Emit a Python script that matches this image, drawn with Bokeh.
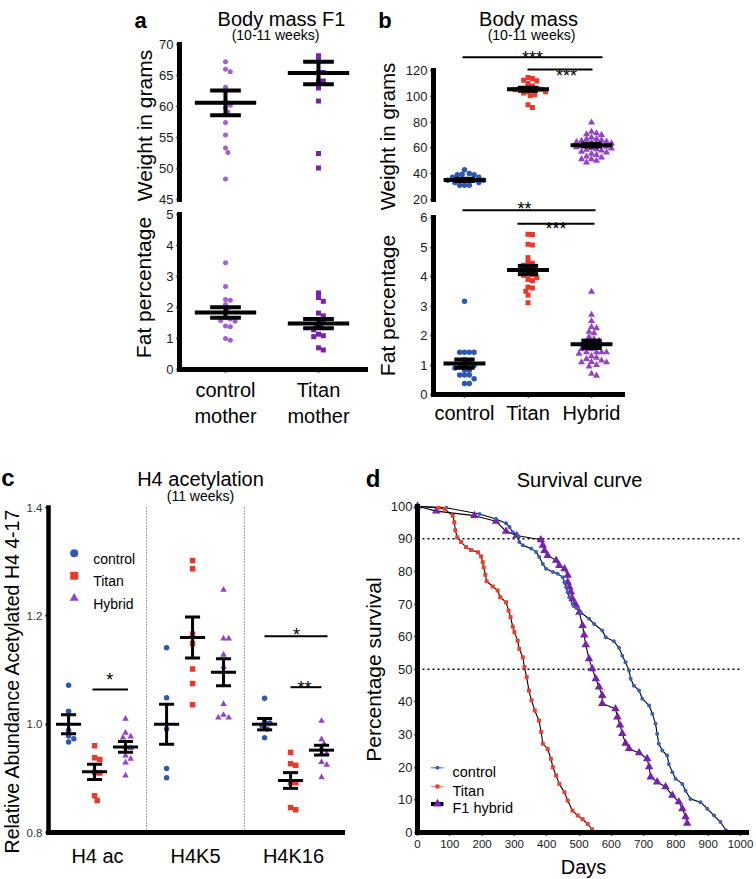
import numpy as np
from bokeh.plotting import figure
from bokeh.layouts import row, column
from bokeh.models import Label, Range1d, FixedTicker, PrintfTickFormatter, LinearAxis
from bokeh.embed import file_html
from bokeh.resources import INLINE

FONT = "Liberation Sans"

# ======================= DATA =======================
# ---- panel a : Body mass F1 (10-11 weeks)
a_groups = ["control\nmother", "Titan\nmother"]
a_weight_control = [67.2, 66.0, 65.6, 63.1, 60.8, 60.2, 59.8, 59.1, 57.4, 55.4, 53.3, 52.6, 48.3]
a_weight_titan = [68.2, 67.4, 65.5, 65.5, 64.1, 64.1, 63.0, 60.9, 52.4, 50.1]
a_weight_mean = [60.6, 65.4]
a_weight_sem = [2.0, 1.8]
a_fat_control = [3.44, 2.68, 2.26, 2.23, 2.10, 1.97, 1.82, 1.67, 1.63, 1.58, 1.56, 1.40, 1.38, 1.00, 0.94]
a_fat_titan = [2.47, 2.32, 2.20, 1.82, 1.73, 1.56, 1.54, 1.42, 1.37, 1.28, 1.14, 1.09, 1.06, 0.70, 0.63]
a_fat_mean = [1.84, 1.48]
a_fat_sem = [0.17, 0.15]
a_weight_ticks = [45, 50, 55, 60, 65, 70]
a_fat_ticks = [0, 1, 2, 3, 4, 5]

# ---- panel b : Body mass (10-11 weeks)
b_groups = ["control", "Titan", "Hybrid"]
b_weight_control = [43.0, 40.2, 39.6, 39.1, 39.1, 37.2, 37.2, 35.0, 35.0, 35.0, 35.0, 35.0, 35.0,
                    33.2, 33.2, 31.1, 31.1, 31.1]
b_weight_titan = [114.6, 113.8, 112.5, 112.0, 110.2, 108.0, 106.8, 106.0, 106.0, 105.5, 105.5, 105.0,
                  104.5, 103.5, 103.5, 102.5, 101.4, 100.4, 93.4, 91.3]
b_weight_hybrid = [79.7, 72.5, 71.4, 70.6, 70.1, 68.0, 67.0, 66.8, 66.0, 65.5, 65.0, 64.5, 64.0, 63.5,
                   63.0, 62.5, 62.0, 61.5, 61.0, 60.5, 60.0, 59.5, 59.0, 58.5, 58.0, 57.0, 56.5, 55.5,
                   54.5, 53.3, 52.5, 51.3, 51.3, 50.0, 48.7]
b_weight_mean = [35.2, 105.5, 62.1]
b_weight_sem = [0.8, 1.2, 1.1]
b_fat_control = [3.16, 1.43, 1.43, 1.43, 1.43, 1.18, 1.14, 0.98, 0.98, 0.98, 0.98, 0.90, 0.82, 0.82,
                 0.66, 0.66, 0.66, 0.53, 0.37, 0.37]
b_fat_titan = [5.43, 5.42, 5.09, 5.07, 4.64, 4.49, 4.45, 4.38, 4.08, 4.07, 4.04, 3.96, 3.90, 3.86,
               3.64, 3.61, 3.50, 3.37, 3.11]
b_fat_hybrid = [3.48, 2.70, 2.49, 2.29, 2.25, 2.13, 2.08, 1.95, 1.88, 1.82, 1.75, 1.75, 1.70, 1.65,
                1.60, 1.54, 1.54, 1.43, 1.43, 1.43, 1.43, 1.38, 1.30, 1.25, 1.20, 1.15, 1.10, 1.09,
                1.09, 1.00, 0.95, 0.70, 0.64]
b_fat_mean = [1.05, 4.22, 1.70]
b_fat_sem = [0.14, 0.14, 0.125]
b_weight_ticks = [20, 40, 60, 80, 100, 120]
b_fat_ticks = [0, 1, 2, 3, 4, 5, 6]

# ---- panel c : H4 acetylation (11 weeks)
c_targets = ["H4 ac", "H4K5", "H4K16"]
c_series = ["control", "Titan", "Hybrid"]
c_control = [[1.072, 1.024, 0.989, 0.978, 0.973, 0.967],
             [1.141, 1.049, 0.991, 0.918, 0.901],
             [1.048, 1.005, 1.002, 0.997, 0.991, 0.975]]
c_titan = [[0.960, 0.938, 0.935, 0.911, 0.910, 0.868, 0.859],
           [1.302, 1.287, 1.166, 1.149, 1.102, 1.075, 1.036],
           [0.948, 0.927, 0.924, 0.892, 0.892, 0.846, 0.842]]
c_hybrid = [[1.010, 0.984, 0.977, 0.975, 0.957, 0.956, 0.942, 0.936, 0.929, 0.905],
            [1.248, 1.158, 1.158, 1.128, 1.106, 1.037, 1.017, 1.012, 1.012],
            [1.006, 0.972, 0.964, 0.956, 0.946, 0.946, 0.930, 0.925, 0.902]]
c_mean_control = [1.000, 1.000, 1.000]
c_sem_control = [0.0175, 0.037, 0.0105]
c_mean_titan = [0.912, 1.160, 0.896]
c_sem_titan = [0.014, 0.038, 0.0145]
c_mean_hybrid = [0.958, 1.096, 0.952]
c_sem_hybrid = [0.010, 0.025, 0.009]
c_ticks = [0.8, 1.0, 1.2, 1.4]

# ---- panel d : Survival curve
d_control_days = [0, 89, 192, 243, 274, 285, 295, 310, 315, 326, 352, 367, 377, 388, 398, 419, 434, 450,
                  455, 460, 465, 470, 480, 492, 505, 531, 547, 572, 583, 608, 624, 634, 644, 655, 660,
                  670, 686, 696, 717, 727, 737, 742, 747, 758, 773, 778, 789, 799, 820, 830, 845, 876,
                  897, 918, 938, 955, 957]
d_control_pct = [100, 99.5, 97.6, 96.1, 94.8, 93.6, 92.0, 91.0, 89.0, 88.0, 87.0, 86.0, 84.4, 82.3,
                 80.8, 79.8, 79.3, 78.2, 76.7, 75.2, 73.6, 72.1, 70.0, 68.8, 67.5, 65.5, 63.9, 61.9,
                 59.8, 58.6, 56.6, 54.2, 52.2, 49.6, 47.1, 45.0, 43.5, 41.0, 38.9, 36.4, 33.3, 30.2,
                 27.2, 25.1, 23.6, 21.0, 18.5, 16.5, 14.9, 12.8, 10.3, 9.3, 7.3, 5.2, 3.2, 0.7, 0]
d_titan_days = [0, 65, 84, 109, 114, 117, 123, 135, 150, 166, 187, 197, 202, 205, 210, 214, 233, 248,
                256, 274, 282, 288, 295, 300, 310, 315, 326, 331, 338, 345, 353, 363, 376, 383, 388,
                403, 413, 419, 429, 439, 455, 465, 480, 496, 511, 527, 540, 544]
d_titan_pct = [100, 99.5, 99.2, 97.1, 95.1, 92.6, 90.5, 89.0, 87.5, 86.6, 85.9, 84.6, 82.8, 81.3, 79.0,
               77.0, 75.4, 74.2, 72.1, 70.6, 68.0, 66.0, 63.1, 61.4, 58.8, 56.3, 53.7, 50.7, 47.6, 43.5,
               40.5, 37.4, 34.3, 30.8, 27.2, 25.6, 22.6, 20.0, 17.5, 14.9, 12.3, 9.8, 6.7, 5.2, 4.1,
               2.6, 1.0, 0]
d_titan_extra_days = [619]
d_titan_extra_pct = [0]
d_hybrid_days = [0, 58, 176, 243, 274, 307, 382, 388, 393, 403, 429, 439, 455, 465, 465, 470, 475, 480,
                 491, 501, 511, 516, 521, 531, 541, 552, 562, 572, 572, 613, 619, 627, 634, 644, 655,
                 686, 711, 717, 722, 742, 768, 789, 809, 820, 830, 835]
d_hybrid_pct = [100, 98.5, 97.1, 95.4, 92.3, 91.0, 89.7, 88.0, 86.4, 84.9, 83.4, 81.8, 80.8, 78.8, 76.7,
                75.2, 73.7, 71.6, 69.6, 67.5, 63.4, 60.5, 57.5, 53.2, 50.2, 47.1, 44.6, 42.0, 39.5,
                37.9, 35.4, 32.9, 30.3, 27.3, 25.7, 24.4, 22.6, 20.1, 17.0, 15.5, 14.0, 11.4, 9.4,
                7.3, 4.8, 2.8]
d_ref_levels = [90, 50]
d_x_ticks = list(range(0, 1001, 100))
d_y_ticks = list(range(0, 101, 10))
d_legend = ["control", "Titan", "F1 hybrid"]

# ======================= STYLE / LAYOUT =======================
A_CTRL, A_TITAN = "#a35fd5", "#7a22b0"
BLUE, RED, PURPLE = "#2e57b5", "#e8392c", "#9443c9"
D_BLUE, D_RED, D_PURPLE = "#3461b9", "#e8412e", "#7b1fae"


def rng(va, pa, vb, pb, e0, e1):
    k = (vb - va) / (pb - pa)
    return (va + (e0 - pa) * k, va + (e1 - pa) * k)


class Panel:
    """box in page pixels (frame = whole canvas); xmap / ymap = two (value, pixel) anchors."""
    def __init__(self, box, xmap, ymap):
        self.box = box
        bx0, by0, bx1, by1 = box
        self.xr = rng(*xmap, bx0, bx1)
        self.yr = rng(*ymap, by1, by0)
        self.pxx = (bx1 - bx0) / (self.xr[1] - self.xr[0])
        self.pxy = (by1 - by0) / (self.yr[1] - self.yr[0])

    def figure(self, **kw):
        bx0, by0, bx1, by1 = self.box
        p = figure(width=bx1 - bx0, height=by1 - by0,
                   x_range=Range1d(*self.xr), y_range=Range1d(*self.yr),
                   min_border=0, min_border_left=0, min_border_right=0,
                   min_border_top=0, min_border_bottom=0,
                   output_backend="svg", toolbar_location=None, **kw)
        p.outline_line_color = None
        p.xgrid.visible = False
        p.ygrid.visible = False
        return p

    def X(self, xp):
        return self.xr[0] + (xp - self.box[0]) / self.pxx

    def Y(self, yp):
        return self.yr[0] + (self.box[3] - yp) / self.pxy


def label(p, P, xp, yp, text, size, bold=False, align="center", baseline="alphabetic",
          angle=0.0, color="black"):
    p.add_layout(Label(x=P.X(xp), y=P.Y(yp), text=text, text_font=FONT,
                       text_font_size=f"{size}px", text_font_style="bold" if bold else "normal",
                       text_align=align, text_baseline=baseline, angle=angle, text_color=color))


def style_axis(ax, lw, tick_out, standoff, size, color="#1a1a1a"):
    ax.axis_line_width = lw
    ax.axis_line_color = "black"
    ax.axis_line_cap = "square"
    ax.major_tick_line_width = 2
    ax.major_tick_line_color = "black"
    ax.major_tick_out = tick_out
    ax.major_tick_in = 0
    ax.minor_tick_line_color = None
    ax.major_label_standoff = standoff
    ax.major_label_text_font = FONT
    ax.major_label_text_font_size = f"{size}px"
    ax.major_label_text_color = color


def yaxis_at(ax, P, spine_x, ticks, lw, tick_out, standoff, size, color="#1a1a1a"):
    ax.fixed_location = P.X(spine_x)
    ax.ticker = FixedTicker(ticks=ticks)
    ax.bounds = (min(ticks), max(ticks))
    style_axis(ax, lw, tick_out, standoff, size, color)
    return ax


def xaxis_at(p, P, spine_y, x0p, x1p, ticks, lw, tick_out, standoff, size, color="black"):
    ax = p.xaxis[0]
    ax.fixed_location = P.Y(spine_y)
    ax.ticker = FixedTicker(ticks=ticks)
    ax.bounds = (P.X(x0p), P.X(x1p))
    style_axis(ax, lw, tick_out, standoff, size, color)
    return ax


def swarm(vals, center, pxx, pxy, d):
    vals = np.asarray(vals, float)
    order = np.argsort(-vals, kind="stable")
    cands = [0.0]
    for j in range(1, 40):
        cands += [j * d / 2, -j * d / 2]
    placed, out = [], np.empty(len(vals))
    for i in order:
        y = vals[i] * pxy
        off = 0.0
        for off in cands:
            if all((off - ox) ** 2 + (y - oy) ** 2 >= (0.95 * d) ** 2 for ox, oy in placed):
                break
        placed.append((off, y))
        out[i] = center + off / pxx
    return out


def mean_sem(p, xs, means, sems, mw, cw, lw, **extra):
    xs = np.asarray(xs, float)
    m = np.asarray(means, float)
    s = np.asarray(sems, float)
    kw = dict(line_color="black", line_width=lw, **extra)
    p.segment(xs - mw, m, xs + mw, m, **kw)
    p.segment(xs - cw, m + s, xs + cw, m + s, **kw)
    p.segment(xs - cw, m - s, xs + cw, m - s, **kw)
    p.segment(xs, m - s, xs, m + s, **kw)


def hbar(p, P, x0p, x1p, yp, lw=2):
    p.segment(x0=P.X(x0p), y0=P.Y(yp), x1=P.X(x1p), y1=P.Y(yp), line_color="black", line_width=lw)


ROT = np.pi / 2

# ======================= PANEL a =======================
P_at = Panel((0, 0, 372, 206), (1, 225, 2, 318), (70, 44, 45, 199))
P_ab = Panel((0, 206, 372, 452), (1, 225, 2, 318), (5, 214, 0, 369))

pa_t = P_at.figure(x_axis_location=None)
yaxis_at(pa_t.yaxis[0], P_at, 179, a_weight_ticks, 5, 3, 3, 13)
for gi, (vals, col, mk) in enumerate([(a_weight_control, A_CTRL, "circle"), (a_weight_titan, A_TITAN, "square")]):
    xs = swarm(vals, gi + 1, P_at.pxx, P_at.pxy, 4.8)
    pa_t.scatter(xs, vals, marker=mk, size=5, fill_color=col, line_color=None)
mean_sem(pa_t, [1, 2], a_weight_mean, a_weight_sem, 0.33, 0.165, 4)
label(pa_t, P_at, 140, 20, "a", 22, bold=True)
label(pa_t, P_at, 281, 18.5, "Body mass F1", 20)
label(pa_t, P_at, 275, 34.5, "(10-11 weeks)", 14)
label(pa_t, P_at, 144, 125, "Weight in grams", 21, baseline="middle", angle=ROT)

pa_b = P_ab.figure()
yaxis_at(pa_b.yaxis[0], P_ab, 179, a_fat_ticks, 5, 3, 3, 13)
ax = xaxis_at(pa_b, P_ab, 369, 179, 365, [1, 2], 5, 3, 6, 20)
ax.major_label_overrides = {i + 1: g for i, g in enumerate(a_groups)}
for gi, (vals, col, mk) in enumerate([(a_fat_control, A_CTRL, "circle"), (a_fat_titan, A_TITAN, "square")]):
    xs = swarm(vals, gi + 1, P_ab.pxx, P_ab.pxy, 4.8)
    pa_b.scatter(xs, vals, marker=mk, size=5, fill_color=col, line_color=None)
mean_sem(pa_b, [1, 2], a_fat_mean, a_fat_sem, 0.33, 0.165, 4)
label(pa_b, P_ab, 143, 287, "Fat percentage", 21, baseline="middle", angle=ROT)

# ======================= PANEL b (one canvas, two y scales) =======================
P_b = Panel((372, 0, 756, 452), (1, 464, 3, 591), (120, 70, 20, 199))
fat_yr = rng(6, 217, 0, 394, 452, 0)
fat_pxy = 452 / (fat_yr[1] - fat_yr[0])
b_styles = [(BLUE, "circle", 5.5, 4.8), (RED, "square", 5, 4.4), (PURPLE, "triangle", 7, 5.0)]

pb = P_b.figure()
pb.extra_y_ranges = {"fat": Range1d(*fat_yr)}
yaxis_at(pb.yaxis[0], P_b, 433, b_weight_ticks, 5, 3, 3, 13)
fat_axis = LinearAxis(y_range_name="fat")
yaxis_at(fat_axis, P_b, 433, b_fat_ticks, 5, 3, 3, 13)
pb.add_layout(fat_axis, "left")
ax = xaxis_at(pb, P_b, 394, 433, 622, [1, 2, 3], 5, 3, 4, 20)
ax.major_label_overrides = {i + 1: g for i, g in enumerate(b_groups)}
for gi, vals in enumerate([b_weight_control, b_weight_titan, b_weight_hybrid]):
    col, mk, sz, dd = b_styles[gi]
    xs = swarm(vals, gi + 1, P_b.pxx, P_b.pxy, dd)
    pb.scatter(xs, vals, marker=mk, size=sz, fill_color=col, line_color=None)
mean_sem(pb, [1, 2, 3], b_weight_mean, b_weight_sem, 0.33, 0.16, 4)
for gi, vals in enumerate([b_fat_control, b_fat_titan, b_fat_hybrid]):
    col, mk, sz, dd = b_styles[gi]
    xs = swarm(vals, gi + 1, P_b.pxx, fat_pxy, dd)
    pb.scatter(xs, vals, marker=mk, size=sz, fill_color=col, line_color=None, y_range_name="fat")
mean_sem(pb, [1, 2, 3], b_fat_mean, b_fat_sem, 0.33, 0.16, 4, y_range_name="fat")
# significance
hbar(pb, P_b, 462, 602, 56.7)
label(pb, P_b, 532, 57.2, "***", 18)
hbar(pb, P_b, 527, 592, 69.0)
label(pb, P_b, 566, 75.0, "***", 18)
hbar(pb, P_b, 462, 595, 209.8)
label(pb, P_b, 524, 208.5, "**", 18)
hbar(pb, P_b, 517, 594, 223.3)
label(pb, P_b, 555.5, 228.8, "***", 18)
label(pb, P_b, 384.5, 20, "b", 22, bold=True)
label(pb, P_b, 528, 18.5, "Body mass", 20)
label(pb, P_b, 531, 34.5, "(10-11 weeks)", 14)
label(pb, P_b, 387, 136, "Weight in grams", 20.5, baseline="middle", angle=ROT)
label(pb, P_b, 387, 305, "Fat percentage", 21, baseline="middle", angle=ROT)

# ======================= PANEL c =======================
P_c = Panel((0, 452, 360, 879), (1, 97, 3, 293), (1.4, 507, 0.8, 832))
pc = P_c.figure()
ax = yaxis_at(pc.yaxis[0], P_c, 48, c_ticks, 4.5, 3, 3, 11.5, color="#333333")
ax.formatter = PrintfTickFormatter(format="%.1f")
ax = xaxis_at(pc, P_c, 832, 48, 342, [1, 2, 3], 5, 0, 12, 20)
ax.major_label_overrides = {i + 1: t for i, t in enumerate(c_targets)}
pc.segment(x0=[1.5, 2.5], y0=min(c_ticks), x1=[1.5, 2.5], y1=max(c_ticks),
           line_color="#555555", line_width=1, line_dash="1 2")
c_offsets = [-0.295, -0.03, 0.286]
c_styles = [(BLUE, "circle", 5.5), (RED, "square", 5.5), (PURPLE, "triangle", 6.5)]
c_all = [c_control, c_titan, c_hybrid]
c_means = [c_mean_control, c_mean_titan, c_mean_hybrid]
c_sems = [c_sem_control, c_sem_titan, c_sem_hybrid]
for si in range(3):
    col, mk, sz = c_styles[si]
    for ti in range(3):
        vals = c_all[si][ti]
        xs = swarm(vals, ti + 1 + c_offsets[si], P_c.pxx, P_c.pxy, 5.2)
        pc.scatter(xs, vals, marker=mk, size=sz, fill_color=col, line_color=None)
for si in range(3):
    mean_sem(pc, [t + 1 + c_offsets[si] for t in range(3)], c_means[si], c_sems[si], 0.128, 0.077, 3)
hbar(pc, P_c, 92, 127.5, 689)
label(pc, P_c, 109.3, 679.6, "*", 18)
hbar(pc, P_c, 264, 327, 635.7)
label(pc, P_c, 296, 634.6, "*", 18)
hbar(pc, P_c, 290, 321, 686.7)
label(pc, P_c, 304, 687.2, "**", 18)
for i, s in enumerate(c_series):
    col, mk, sz = c_styles[i]
    yy = [552.7, 575.2, 597.7][i]
    pc.scatter([P_c.X(73.7)], [P_c.Y(yy)], marker=mk, size=sz + 2.5, fill_color=col, line_color=None)
    label(pc, P_c, 92.7, yy + 5.7, s, 14, align="left")
label(pc, P_c, 7.5, 476.7, "c", 24, bold=True)
label(pc, P_c, 200, 478.3, "H4 acetylation", 20)
label(pc, P_c, 200, 495.7, "(11 weeks)", 14)
label(pc, P_c, 11.5, 680, "Relative Abundance Acetylated H4 4-17", 19.5, baseline="middle", angle=ROT)

# ======================= PANEL d =======================
P_d = Panel((360, 452, 756, 879), (0, 417, 1000, 740), (100, 505.7, 0, 832))
pdd = P_d.figure()
yaxis_at(pdd.yaxis[0], P_d, 417, d_y_ticks, 5, 3, 2, 13)
xaxis_at(pdd, P_d, 832, 417, 746, d_x_ticks, 5, 3, 4, 11.5, color="#1a1a1a")
pdd.segment(x0=0, y0=d_ref_levels, x1=1005, y1=d_ref_levels, line_color="black",
            line_width=1.5, line_dash="2 3")
curves = [(d_hybrid_days, d_hybrid_pct, D_PURPLE, "triangle", 8.5),
          (d_control_days, d_control_pct, D_BLUE, "circle", 4),
          (d_titan_days, d_titan_pct, D_RED, "square", 4)]
for days, pct, col, mk, sz in curves:
    pdd.line(days, pct, line_color="black", line_width=1.1)
for days, pct, col, mk, sz in curves:
    pdd.scatter(days, pct, marker=mk, size=sz, fill_color=col, line_color=None)
pdd.scatter(d_titan_extra_days, d_titan_extra_pct, marker="square", size=4.5, fill_color=D_RED, line_color=None)
leg_styles = [("#8193c4", 1.5, D_BLUE, "circle", 4), ("#e0948c", 1.5, D_RED, "square", 4),
              ("black", 4, D_PURPLE, "triangle", 9)]
for i, name in enumerate(d_legend):
    lc, lw, mc, mk, sz = leg_styles[i]
    yy = [767.3, 786.0, 803.5][i]
    pdd.segment(x0=P_d.X(430.5), y0=P_d.Y(yy), x1=P_d.X(443), y1=P_d.Y(yy), line_color=lc, line_width=lw)
    pdd.scatter([P_d.X(437)], [P_d.Y(yy)], marker=mk, size=sz, fill_color=mc, line_color=None)
    label(pdd, P_d, 452, yy + 4.4, name, 14.5, align="left")
label(pdd, P_d, 372.5, 478, "d", 24, bold=True)
label(pdd, P_d, 579, 479.3, "Survival curve", 20)
label(pdd, P_d, 373, 669, "Percentage survival", 21, baseline="middle", angle=ROT)
label(pdd, P_d, 583, 866, "Days", 20)

layout = column(row(column(pa_t, pa_b), pb), row(pc, pdd))
open("out.html", "w").write(file_html(layout, INLINE, "Figure"))
